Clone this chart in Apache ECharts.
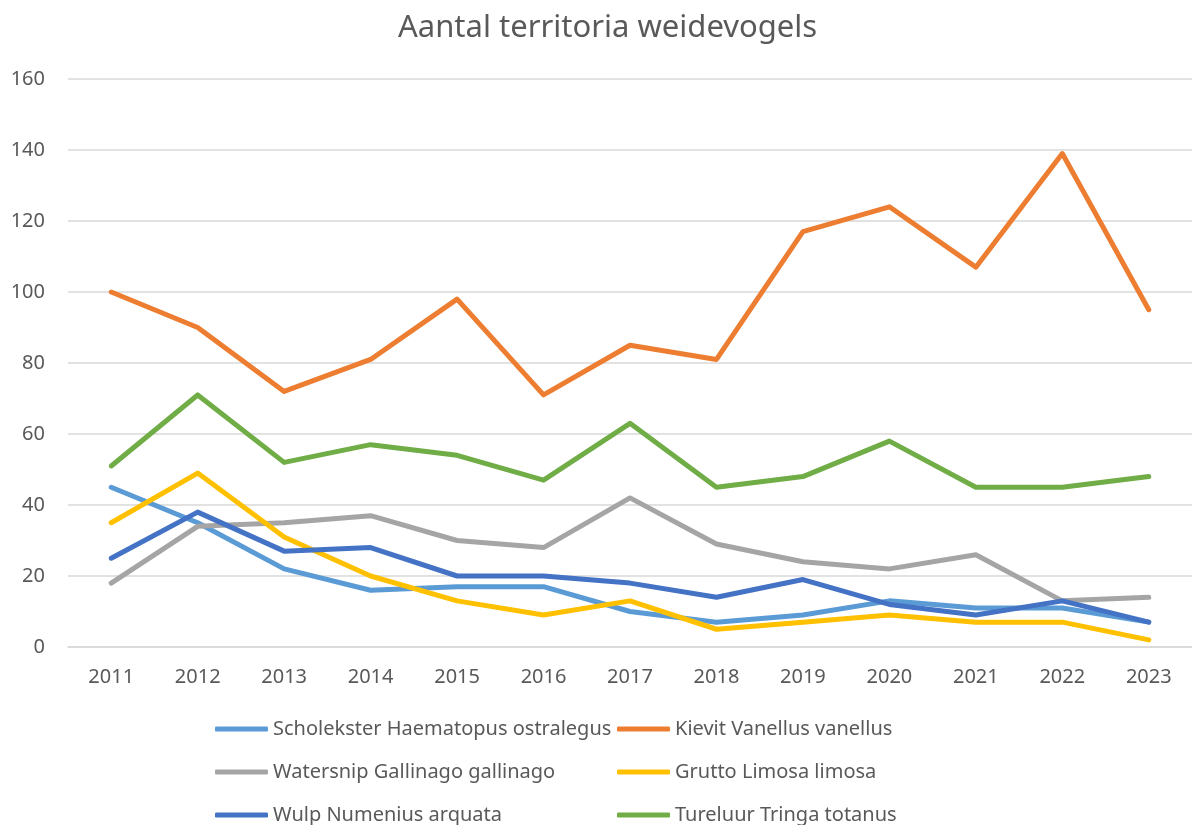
<!DOCTYPE html>
<html><head><meta charset="utf-8">
<script src="https://cdn.jsdelivr.net/npm/echarts@6/dist/echarts.min.js"></script>
<style>html,body{margin:0;padding:0;background:#fff}#c{width:1192px;height:825px}</style>
</head><body><div id="c"></div>
<script>
const years = ['2011','2012','2013','2014','2015','2016','2017','2018','2019','2020','2021','2022','2023'];
const scholekster = [45,35,22,16,17,17,10,7,9,13,11,11,7];
const kievit = [100,90,72,81,98,71,85,81,117,124,107,139,95];
const watersnip = [18,34,35,37,30,28,42,29,24,22,26,13,14];
const grutto = [35,49,31,20,13,9,13,5,7,9,7,7,2];
const wulp = [25,38,27,28,20,20,18,14,19,12,9,13,7];
const tureluur = [51,71,52,57,54,47,63,45,48,58,45,45,48];
const names = ['Scholekster Haematopus ostralegus','Kievit Vanellus vanellus','Watersnip Gallinago gallinago','Grutto Limosa limosa','Wulp Numenius arquata','Tureluur Tringa totanus'];
const colors = ['#5b9bd5','#ed7d31','#a5a5a5','#ffc000','#4472c4','#70ad47'];
const seriesData = [scholekster,kievit,watersnip,grutto,wulp,tureluur];
const font = 'Noto Sans';
const chart = echarts.init(document.getElementById('c'));
const legendPos = [[215,719],[617,719],[215,762],[617,762],[215,805],[617,805]];
const legends = names.map((n,i)=>({left:legendPos[i][0],top:legendPos[i][1],padding:0,data:[n],
  icon:'roundRect',itemWidth:53,itemHeight:5,selectedMode:false,
  textStyle:{fontFamily:font,fontSize:20,color:'#595959'}}));
chart.setOption({
  animation:false,
  title:{text:'Aantal territoria weidevogels',left:398,top:13,padding:0,textStyle:{fontFamily:font,fontSize:31,fontWeight:'normal',color:'#595959'}},
  legend:legends,
  grid:{left:68,top:79,width:1129,height:568,containLabel:false},
  xAxis:{type:'category',data:years,boundaryGap:true,
    axisLine:{lineStyle:{color:'#d9d9d9',width:1.5}},axisTick:{show:false},
    axisLabel:{fontFamily:font,fontSize:20,color:'#595959',margin:20}},
  yAxis:{type:'value',min:0,max:160,interval:20,
    axisLine:{show:false},axisTick:{show:false},
    splitLine:{lineStyle:{color:'#d9d9d9',width:1.5}},
    axisLabel:{fontFamily:font,fontSize:20,color:'#595959',margin:23}},
  series:seriesData.map((d,i)=>({name:names[i],type:'line',data:d,symbol:'none',
    lineStyle:{color:colors[i],width:5,cap:'round',join:'round'},itemStyle:{color:colors[i]}}))
});
</script></body></html>
